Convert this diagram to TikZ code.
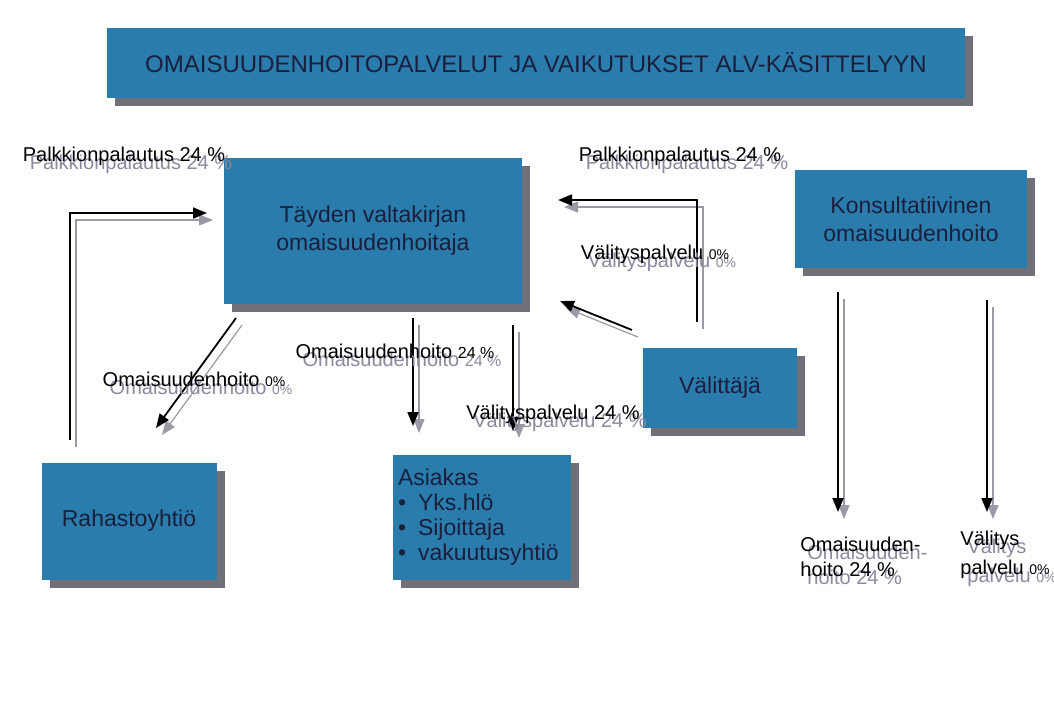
\documentclass[tikz,border=0pt]{standalone}
\usepackage{fontspec}
\setmainfont{Liberation Sans}
\usepackage{tikz}
\usetikzlibrary{arrows.meta,positioning,shadows}
\definecolor{boxblue}{HTML}{2A7CAD}
\definecolor{boxshade}{HTML}{707078}
\definecolor{boxtext}{HTML}{1A1F3D}
\definecolor{ghost}{HTML}{8A8A9E}
\definecolor{ghostline}{HTML}{9A9AA6}
\newcommand{\dbl}[1]{\rlap{\hspace{3.5pt}\raisebox{-4pt}{\textcolor{ghost}{#1}}}#1}

\begin{document}
\begin{tikzpicture}[x=0.5pt,y=-0.5pt,
  box/.style={fill=boxblue,text=boxtext,font=\fontsize{11.5}{14}\selectfont,align=center,inner sep=0pt,
    drop shadow={shadow xshift=4pt,shadow yshift=-4pt,fill=boxshade,opacity=1}},
  lbl/.style={font=\fontsize{10}{10.5}\selectfont,inner sep=0pt,align=left},
  flow/.style={line width=0.9pt,-{Triangle[length=7pt,width=5.5pt]},
    preaction={draw=ghostline,line width=0.6pt,-{Triangle[length=7pt,width=5.5pt]},
      transform canvas={xshift=3pt,yshift=-3.5pt}}}]
\fill[white] (0,0) rectangle (1054,713);
\useasboundingbox (0,0) rectangle (1054,713);

% boxes
\node[box,minimum width=429pt,minimum height=35pt,font=\fontsize{12}{14}\selectfont] (title) at (536,63)
  {OMAISUUDENHOITOPALVELUT JA VAIKUTUKSET ALV-KÄSITTELYYN};
\node[box,minimum width=149pt,minimum height=73pt] (tayden) at (373,231)
  {Täyden valtakirjan\\omaisuudenhoitaja};
\node[box,minimum width=116pt,minimum height=49pt] (konsult) at (911,219)
  {Konsultatiivinen\\omaisuudenhoito};
\node[box,minimum width=77pt,minimum height=40pt] (valittaja) at (720,388) {Välittäjä};
\node[box,minimum width=87.5pt,minimum height=58.5pt] (rahasto) at (129,521) {Rahastoyhtiö};
\node[box,minimum width=89pt,minimum height=62.5pt,text width=84pt,align=left,
  font=\fontsize{11.5}{12.5}\selectfont] (asiakas) at (482,517)
  {Asiakas\\\textbullet\hspace{6pt}Yks.hlö\\\textbullet\hspace{6pt}Sijoittaja\\\textbullet\hspace{6pt}\mbox{vakuutusyhtiö}};

% arrow ends
\coordinate (rL0) at (70,440);
\coordinate (rL1) at (207,213);
\coordinate (vR0) at (697,322);
\coordinate (vR1) at (558,200);
\coordinate (vD0) at (632,330);
\coordinate (vD1) at (560,301);
\coordinate (tR0) at (236,318);
\coordinate (tR1) at (156,428);
\coordinate (tA0) at (413,318);
\coordinate (tA1) at (413,426);
\coordinate (tV0) at (513,325);
\coordinate (tV1) at (513,431);
\coordinate (kO0) at (838,292);
\coordinate (kO1) at (838,512);
\coordinate (kV0) at (987,300);
\coordinate (kV1) at (987,512);

\draw[flow] (rL0) |- (rL1);
\draw[flow] (vR0) |- (vR1);
\draw[flow] (vD0) -- (vD1);
\draw[flow] (tR0) -- (tR1);
\draw[flow] (tA0) -- (tA1);
\draw[flow] (tV0) -- (tV1);
\draw[flow] (kO0) -- (kO1);
\draw[flow] (kV0) -- (kV1);

% labels
\node[lbl] (palkL) at (124,160) {\dbl{Palkkionpalautus 24 \%}};
\node[lbl] (palkR) at (680,160) {\dbl{Palkkionpalautus 24 \%}};
\node[lbl] (valit0) at (655,258) {\dbl{Välityspalvelu {\scriptsize 0\%}}};
\node[lbl] (omai0) at (194,383) {\dbl{Omaisuudenhoito {\scriptsize 0\%}}};
\node[lbl] (omai24) at (395,355) {\dbl{Omaisuudenhoito {\footnotesize 24 \%}}};
\node[lbl] (valit24) at (553,418) {\dbl{Välityspalvelu 24 \%}};
\node[lbl,anchor=west] (konsO) at (800,561) {\dbl{Omaisuuden-}\\\dbl{hoito 24 \%}};
\node[lbl,anchor=west] (konsV) at (960,559) {\dbl{Välitys}\\\dbl{palvelu {\scriptsize 0\%}}};
\end{tikzpicture}
\end{document}
